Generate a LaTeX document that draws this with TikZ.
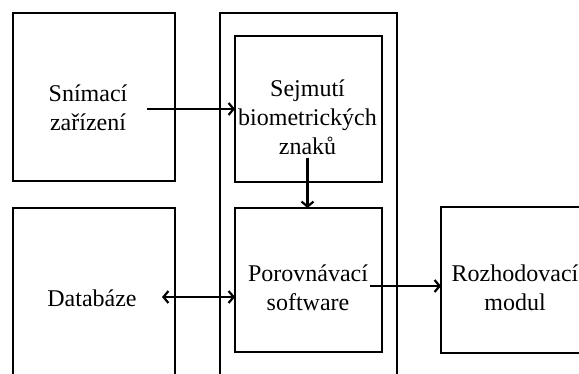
\documentclass[tikz,border=0pt]{standalone}
\usepackage{fontspec}
\setmainfont{Liberation Serif}
\usetikzlibrary{arrows.meta}
\begin{document}
\begin{tikzpicture}[x=1pt,y=-1pt,
  box/.style={draw, line width=2.6pt, inner sep=0pt, outer sep=0pt},
  lbl/.style={align=center, inner sep=0pt, font=\fontsize{24}{29}\selectfont},
  arr/.style={line width=2.2pt, -{Straight Barb[length=5pt,width=12pt]}},
  arrb/.style={line width=2.2pt, {Straight Barb[length=5pt,width=12pt]}-{Straight Barb[length=5pt,width=12pt]}}
]
\path[use as bounding box] (0,0) rectangle (579,374);
\clip (0,0) rectangle (579,374);
\fill[white] (0,0) rectangle (579,374);
% boxes
\node[box, minimum width=162, minimum height=168] (snim) at (94,97) {};
\node[box, minimum width=177, minimum height=387] (outer) at (308.5,206.5) {};
\node[box, minimum width=147, minimum height=146] (sejm) at (308.5,109) {};
\node[box, minimum width=162, minimum height=190] (datab) at (94,303) {};
\node[box, minimum width=147, minimum height=144] (porov) at (308.5,280) {};
\node[box, minimum width=180, minimum height=146] (rozh) at (531,280) {};
% labels
\node[lbl] (snimtxt) at (88,108) {Snímací\\zařízení};
\node[lbl] (sejmtxt) at (307.5,117) {Sejmutí\\biometrických\\znaků};
\node[lbl] (dattxt) at (92,298) {Databáze};
\node[lbl] (portxt) at (308,288) {Porovnávací\\software};
\node[lbl] (roztxt) at (515,288) {Rozhodovací\\modul};
% connectors
\coordinate (a1) at (147,109);
\draw[arr] (a1) -- (sejm.west);
\draw[arr] (sejmtxt.south) ++(0,3) -- (sejmtxt.south |- porov.north);
\coordinate (a3) at (162,297);
\draw[arrb] (a3) -- (a3 -| porov.west);
\coordinate (a4) at (370,286);
\draw[arr] (a4) -- (a4 -| rozh.west);
\end{tikzpicture}
\end{document}
